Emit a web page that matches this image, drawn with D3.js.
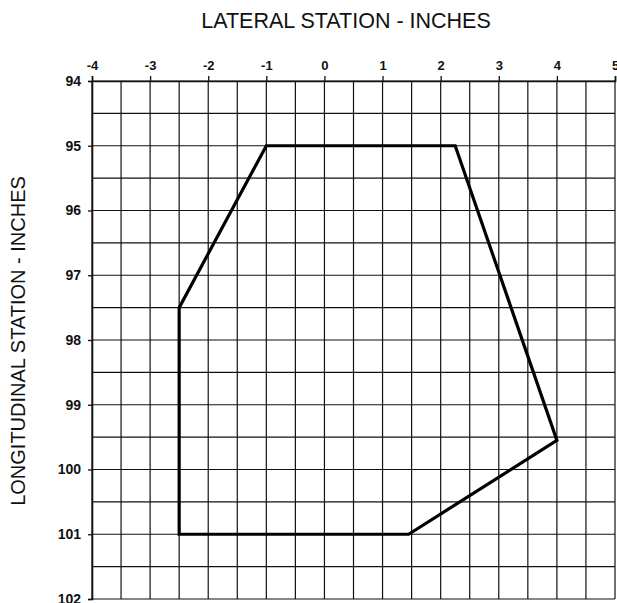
<!DOCTYPE html>
<html><head><meta charset="utf-8">
<script src="https://cdn.jsdelivr.net/npm/d3@7"></script>
<style>html,body{margin:0;padding:0;background:#fff;}svg{display:block;}</style>
</head><body>
<script>
const xTicks = [-4, -3, -2, -1, 0, 1, 2, 3, 4, 5];
const yTicks = [94, 95, 96, 97, 98, 99, 100, 101, 102];
const polyX = [-1, 2.25, 4, 1.45, -2.5, -2.5];
const polyY = [95, 95, 99.55, 101, 101, 97.5];
const xTitle = "LATERAL STATION - INCHES";
const yTitle = "LONGITUDINAL STATION - INCHES";

const W = 617, H = 603;
const svg = d3.select("body").append("svg").attr("width", W).attr("height", H);
const x = d3.scaleLinear().domain([-4, 5]).range([92, 615]);
const y = d3.scaleLinear().domain([94, 102]).range([81, 599]);

const gridX = d3.range(-4, 5.01, 0.5);
const gridY = d3.range(94, 102.01, 0.5);
const ink = "#111";
const fmt = d => String(d);

svg.append("g").selectAll("line.v").data(gridX).join("line")
  .attr("x1", d => x(d)).attr("x2", d => x(d))
  .attr("y1", y(94)).attr("y2", y(102))
  .attr("stroke", ink).attr("stroke-width", 1.2);
svg.append("g").selectAll("line.h").data(gridY).join("line")
  .attr("y1", d => y(d)).attr("y2", d => y(d))
  .attr("x1", x(-4)).attr("x2", x(5))
  .attr("stroke", ink).attr("stroke-width", 1.2);

// top axis
const xAxis = d3.axisTop(x).tickValues(xTicks).tickSize(5).tickPadding(6).tickFormat(fmt);
const gx = svg.append("g").attr("transform", `translate(0,${y(94)})`).call(xAxis);
gx.select(".domain").attr("stroke", ink).attr("stroke-width", 1.6);
gx.selectAll(".tick line").attr("stroke", ink).attr("stroke-width", 1.3);
gx.selectAll("text").attr("font-family", "Liberation Sans, Arial, sans-serif")
  .attr("font-size", 13).attr("font-weight", "bold").attr("fill", ink);

// left axis
const yAxis = d3.axisLeft(y).tickValues(yTicks).tickSize(4).tickPadding(7).tickFormat(fmt);
const gy = svg.append("g").attr("transform", `translate(${x(-4)},0)`).call(yAxis);
gy.select(".domain").attr("stroke", ink).attr("stroke-width", 1.6);
gy.selectAll(".tick line").attr("stroke", ink).attr("stroke-width", 1.3);
gy.selectAll("text").attr("font-family", "Liberation Sans, Arial, sans-serif")
  .attr("font-size", 14).attr("font-weight", "bold").attr("fill", ink);

// polygon
const pts = polyX.map((v, i) => [x(v), y(polyY[i])]);
svg.append("path")
  .attr("d", d3.line().curve(d3.curveLinearClosed)(pts))
  .attr("fill", "none").attr("stroke", "#000").attr("stroke-width", 3.2)
  .attr("stroke-linejoin", "miter");

// titles
svg.append("text").attr("x", 346).attr("y", 28).attr("text-anchor", "middle")
  .attr("font-family", "Liberation Sans, Arial, sans-serif").attr("font-size", 21.5)
  .attr("fill", ink).text(xTitle);
svg.append("text").attr("transform", `translate(25,341) rotate(-90)`).attr("text-anchor", "middle")
  .attr("font-family", "Liberation Sans, Arial, sans-serif").attr("font-size", 20)
  .attr("fill", ink).text(yTitle);
</script>
</body></html>
